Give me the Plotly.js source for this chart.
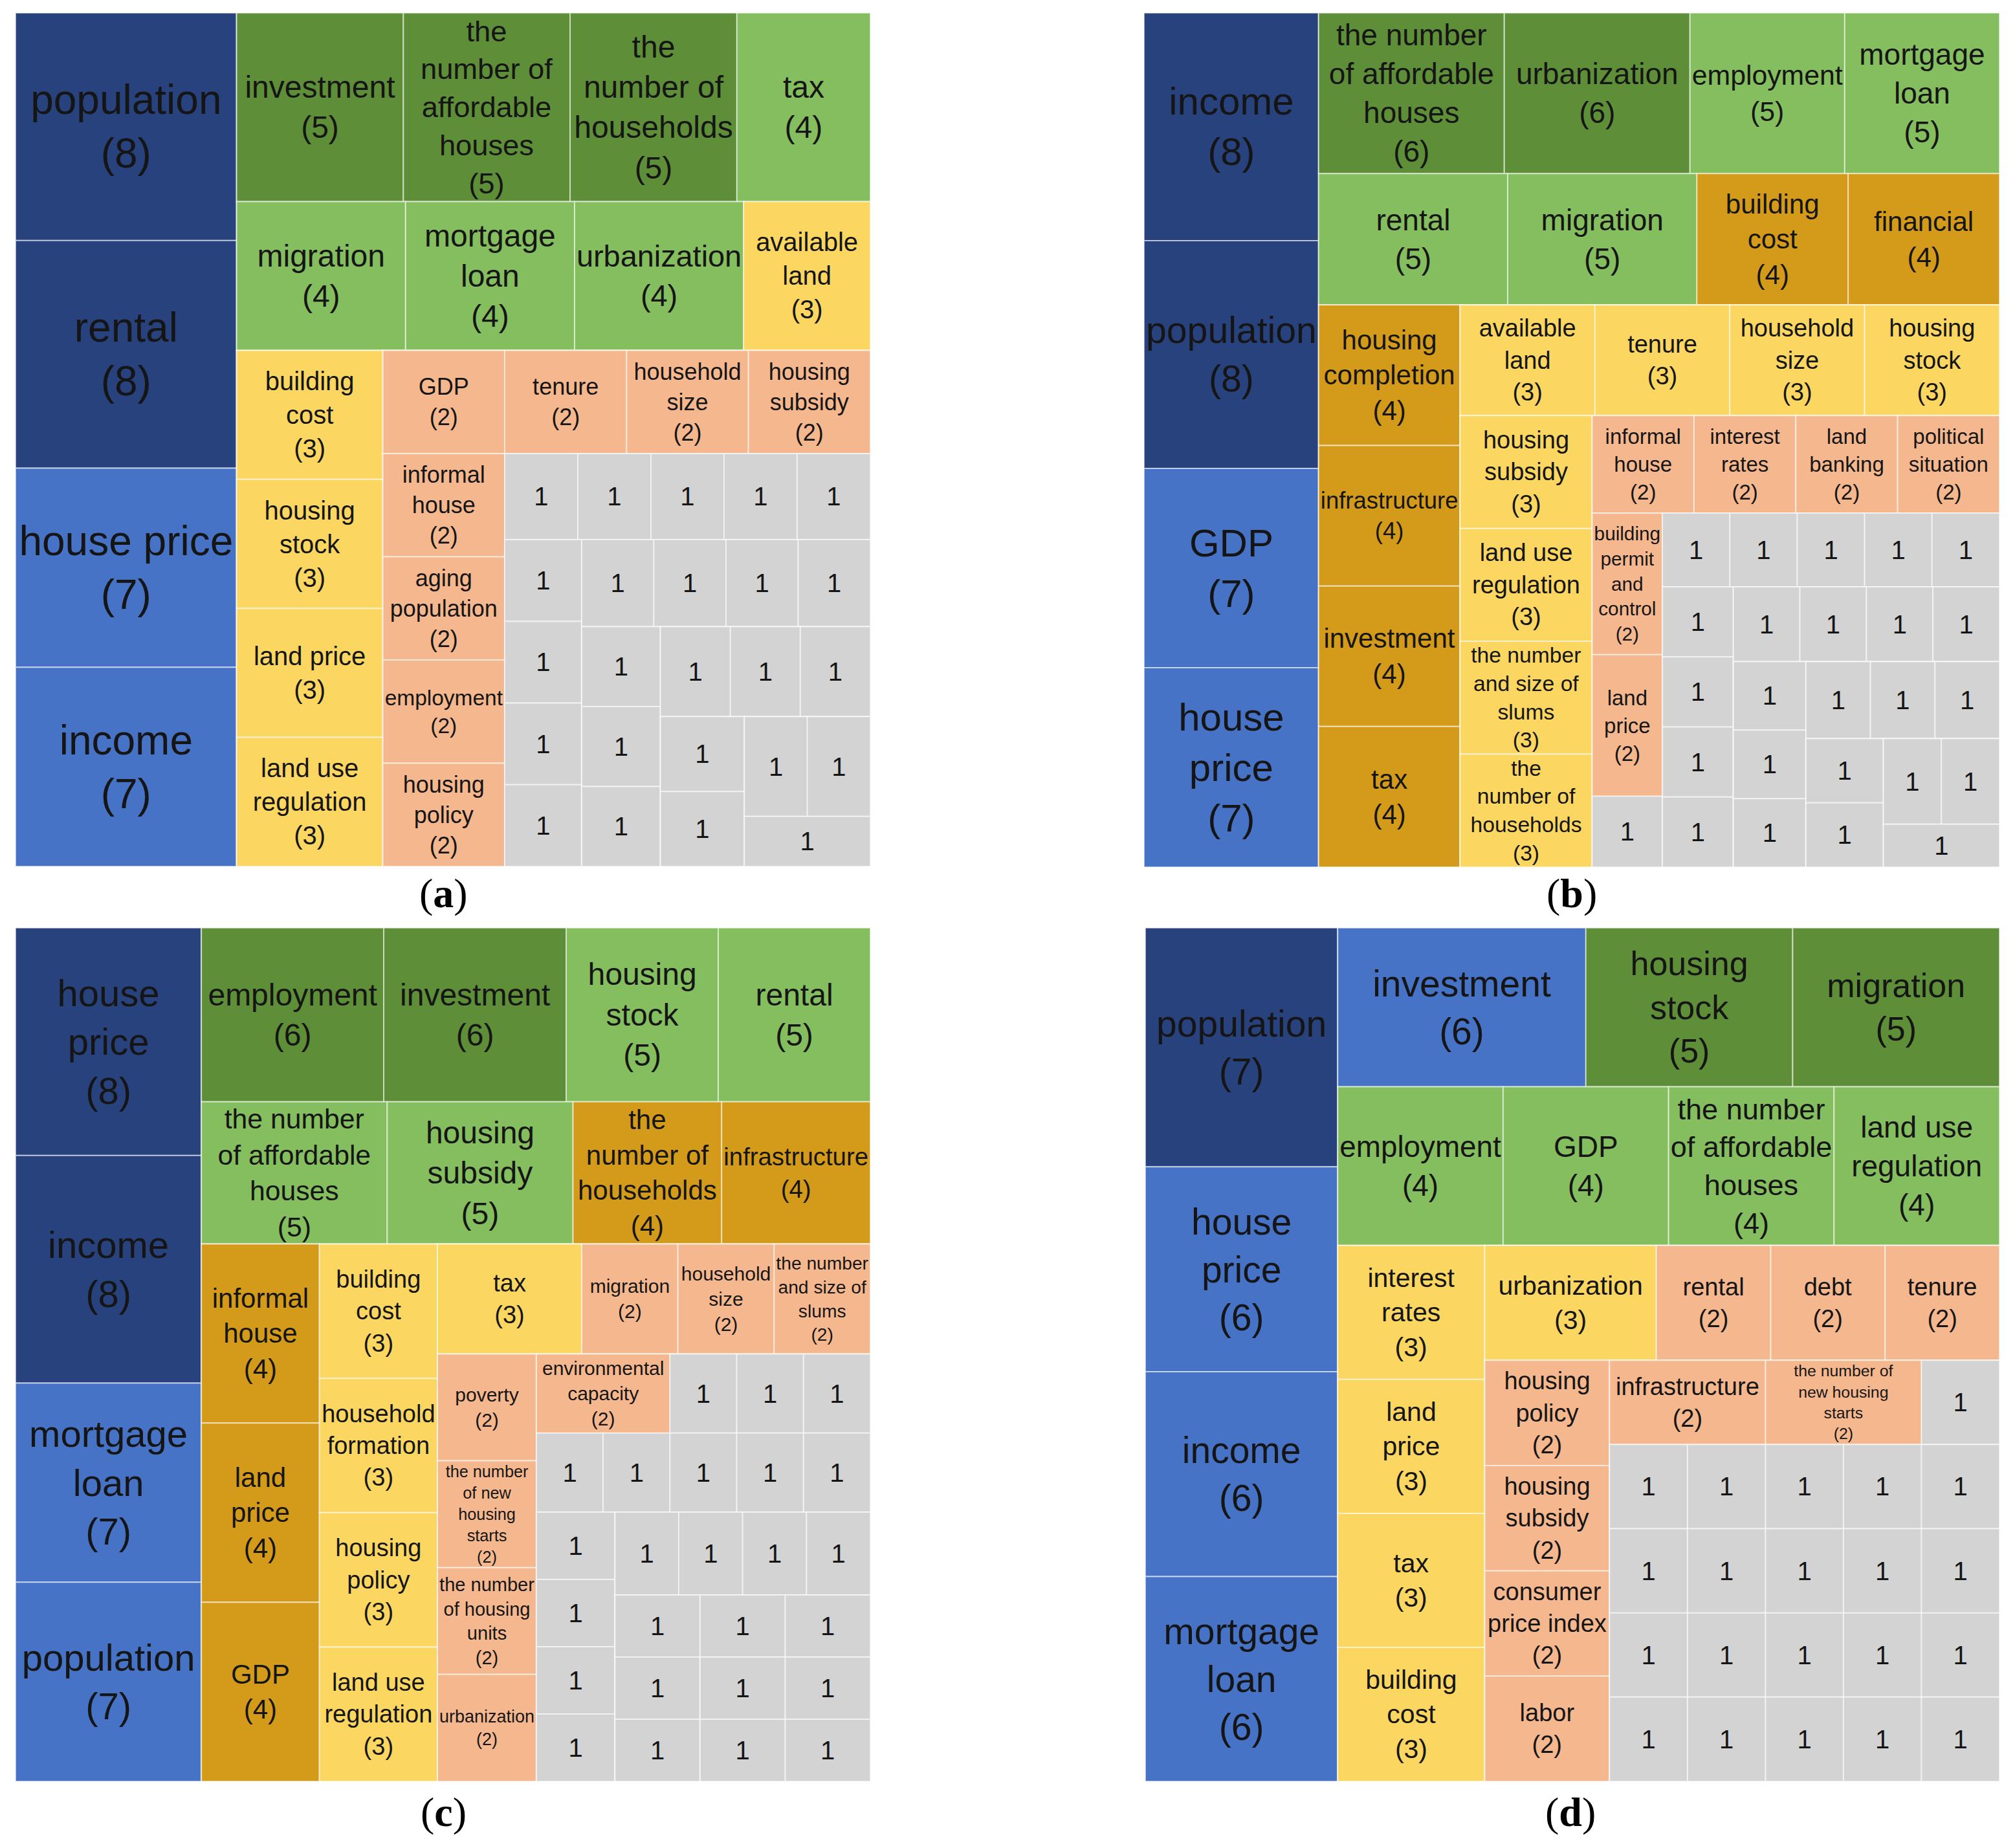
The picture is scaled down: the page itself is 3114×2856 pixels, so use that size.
<!DOCTYPE html>
<html>
<head>
<meta charset="utf-8">
<script src="https://cdn.plot.ly/plotly-3.0.1.min.js"></script>
<style>
  html, body { margin: 0; padding: 0; background: #fff; }
  #graph { width: 3114px; height: 2856px; }
</style>
</head>
<body>
<div id="graph"></div>
<script>
// (a)
var namesA = ["population", "rental", "house price", "income", "investment",
  "the<br>number of<br>affordable<br>houses", "the<br>number of<br>households", "tax",
  "migration", "mortgage<br>loan", "urbanization", "available<br>land",
  "building<br>cost", "housing<br>stock", "land price", "land use<br>regulation",
  "GDP", "tenure", "household<br>size", "housing<br>subsidy",
  "informal<br>house", "aging<br>population", "employment", "housing<br>policy"];
var valuesA = [8, 8, 7, 7, 5, 5, 5, 4, 4, 4, 4, 3, 3, 3, 3, 3, 2, 2, 2, 2, 2, 2, 2, 2,
  1, 1, 1, 1, 1, 1, 1, 1, 1, 1, 1, 1, 1, 1, 1, 1, 1, 1, 1, 1, 1, 1, 1, 1];

// (b)
var namesB = ["income", "population", "GDP", "house<br>price",
  "the number<br>of affordable<br>houses", "urbanization", "employment", "mortgage<br>loan",
  "rental", "migration", "building<br>cost", "financial",
  "housing<br>completion", "infrastructure", "investment", "tax",
  "available<br>land", "tenure", "household<br>size", "housing<br>stock",
  "housing<br>subsidy", "land use<br>regulation", "the number<br>and size of<br>slums", "the<br>number of<br>households",
  "informal<br>house", "interest<br>rates", "land<br>banking", "political<br>situation",
  "building<br>permit<br>and<br>control", "land<br>price"];
var valuesB = [8, 8, 7, 7, 6, 6, 5, 5, 5, 5, 4, 4, 4, 4, 4, 4, 3, 3, 3, 3, 3, 3, 3, 3,
  2, 2, 2, 2, 2, 2,
  1, 1, 1, 1, 1, 1, 1, 1, 1, 1, 1, 1, 1, 1, 1, 1, 1, 1, 1, 1, 1, 1, 1, 1, 1];

// (c)
var namesC = ["house<br>price", "income", "mortgage<br>loan", "population",
  "employment", "investment", "housing<br>stock", "rental",
  "the number<br>of affordable<br>houses", "housing<br>subsidy", "the<br>number of<br>households", "infrastructure",
  "informal<br>house", "land<br>price", "GDP",
  "building<br>cost", "household<br>formation", "housing<br>policy", "land use<br>regulation",
  "tax", "migration", "household<br>size", "the number<br>and size of<br>slums",
  "poverty", "the number<br>of new<br>housing<br>starts", "the number<br>of housing<br>units", "urbanization",
  "environmental<br>capacity"];
var valuesC = [8, 8, 7, 7, 6, 6, 5, 5, 5, 5, 4, 4, 4, 4, 4, 3, 3, 3, 3, 3,
  2, 2, 2, 2, 2, 2, 2, 2,
  1, 1, 1, 1, 1, 1, 1, 1, 1, 1, 1, 1, 1, 1, 1, 1, 1, 1, 1, 1, 1, 1, 1, 1, 1];

// (d)
var namesD = ["population", "house<br>price", "income", "mortgage<br>loan",
  "investment", "housing<br>stock", "migration",
  "employment", "GDP", "the number<br>of affordable<br>houses", "land use<br>regulation",
  "interest<br>rates", "land<br>price", "tax", "building<br>cost",
  "urbanization", "rental", "debt", "tenure",
  "housing<br>policy", "housing<br>subsidy", "consumer<br>price index", "labor",
  "infrastructure", "the number of<br>new housing<br>starts"];
var valuesD = [7, 6, 6, 6, 6, 5, 5, 4, 4, 4, 4, 3, 3, 3, 3, 3, 2, 2, 2, 2, 2, 2, 2, 2, 2,
  1, 1, 1, 1, 1, 1, 1, 1, 1, 1, 1, 1, 1, 1, 1, 1, 1, 1, 1, 1, 1];

// how each map is cut: v = column taken from the left, h = row taken from the top, then item count
var stripsA = ["v4", "h4", "h4", "v4", "h4", "v4", "h5", "v4", "h4", "v3", "h3", "v2", "h2", "h1"];
var stripsB = ["v4", "h4", "h4", "v4", "h4", "v4", "h4", "v3", "h5", "v4", "h4", "v3", "h3", "v2", "h2", "h1"];
var stripsC = ["v4", "h4", "h4", "v3", "v4", "h4", "v4", "h4", "h5", "v4", "h4", "v3", "h2", "v2", "v2"];
var stripsD = ["v4", "h3", "h4", "v4", "h4", "v4", "h3", "v4", "v4", "v4", "v4", "v4"];

var NAVY = "#27427d", BLUE = "#4673c6", DKGREEN = "#5e8e38", LTGREEN = "#85be5f",
    ORANGE = "#d49b1a", YELLOW = "#fbd762", SALMON = "#f5b88e", GREY = "#d3d3d3";

var colorA = {8: NAVY, 7: BLUE, 5: DKGREEN, 4: LTGREEN, 3: YELLOW, 2: SALMON, 1: GREY};
var colorB = {8: NAVY, 7: BLUE, 6: DKGREEN, 5: LTGREEN, 4: ORANGE, 3: YELLOW, 2: SALMON, 1: GREY};
var colorC = colorB;
var colorD = {7: NAVY, 6: BLUE, 5: DKGREEN, 4: LTGREEN, 3: YELLOW, 2: SALMON, 1: GREY};

var sizeA = {8: 64, 7: 64, 5: 48, 4: 48, 3: 40, 2: 36, 1: 40};
var sizeB = {8: 60, 7: 60, 6: 46, 5: 46, 4: 42, 3: 38, 2: 33, 1: 40};
var sizeC = {8: 58, 7: 58, 6: 48, 5: 48, 4: 42, 3: 38, 2: 30, 1: 40};
var sizeD = {7: 57, 6: 57, 5: 52, 4: 46, 3: 41, 2: 38, 1: 40};

function buildTree(tag, names, values, strips, colorOf, sizeOf, domain) {
  var ids = [tag], parents = [""], vals = [0], text = [""], colors = ["#ffffff"], sizes = [10];
  var box = tag, dir = "x", k = 0, nBox = 0;
  strips.forEach(function (s, i) {
    var sdir = s.charAt(0) === "v" ? "x" : "y";
    if (sdir !== dir) {
      nBox++;
      var b = tag + "-box" + nBox;
      ids.push(b); parents.push(box); vals.push(0); text.push(""); colors.push("#ffffff"); sizes.push(10);
      box = b; dir = sdir;
    }
    var sid = tag + "-strip" + i;
    ids.push(sid); parents.push(box); vals.push(0); text.push(""); colors.push("#ffffff"); sizes.push(10);
    var n = +s.slice(1);
    for (var j = 0; j < n; j++, k++) {
      ids.push(tag + "-" + k);
      parents.push(sid);
      vals.push(values[k]);
      text.push(k < names.length ? names[k] + "<br>(" + values[k] + ")" : String(values[k]));
      colors.push(colorOf[values[k]]);
      sizes.push(sizeOf[values[k]]);
    }
  });
  return {
    type: "treemap",
    ids: ids,
    labels: ids,
    parents: parents,
    values: vals,
    text: text,
    branchvalues: "remainder",
    sort: false,
    textinfo: "text",
    textposition: "middle center",
    textfont: {family: "Liberation Sans, Arial, sans-serif", size: sizes, color: "#151515"},
    marker: {
      colors: colors,
      line: {color: "rgba(255,255,255,0.55)", width: 2},
      pad: {t: 0, l: 0, r: 0, b: 0},
      depthfade: false
    },
    tiling: {packing: "slice-dice", pad: 0},
    pathbar: {visible: false},
    leaf: {opacity: 1},
    hoverinfo: "skip",
    domain: domain
  };
}

var data = [
  buildTree("a", namesA, valuesA, stripsA, colorA, sizeA, {x: [0.00771, 0.43192], y: [0.53116, 0.99300]}),
  buildTree("b", namesB, valuesB, stripsB, colorB, sizeB, {x: [0.56776, 0.99229], y: [0.53081, 0.99300]}),
  buildTree("c", namesC, valuesC, stripsC, colorC, sizeC, {x: [0.00771, 0.43192], y: [0.03606, 0.49790]}),
  buildTree("d", namesD, valuesD, stripsD, colorD, sizeD, {x: [0.56840, 0.99229], y: [0.03606, 0.49790]})
];

function panelLabel(letter, x, y) {
  return {
    text: "(<b>" + letter + "</b>)", x: x, y: y, xref: "paper", yref: "paper",
    xanchor: "center", yanchor: "middle", showarrow: false,
    font: {family: "Liberation Serif, Times New Roman, serif", size: 64, color: "#000"}
  };
}

var layout = {
  width: 3114,
  height: 2856,
  margin: {l: 0, r: 0, t: 0, b: 0},
  paper_bgcolor: "#ffffff",
  showlegend: false,
  annotations: [
    panelLabel("a", 0.2200, 0.5168),
    panelLabel("b", 0.7800, 0.5168),
    panelLabel("c", 0.2200, 0.0196),
    panelLabel("d", 0.7794, 0.0196)
  ]
};

Plotly.newPlot(document.getElementById("graph"), data, layout, {staticPlot: true});
</script>
</body>
</html>
